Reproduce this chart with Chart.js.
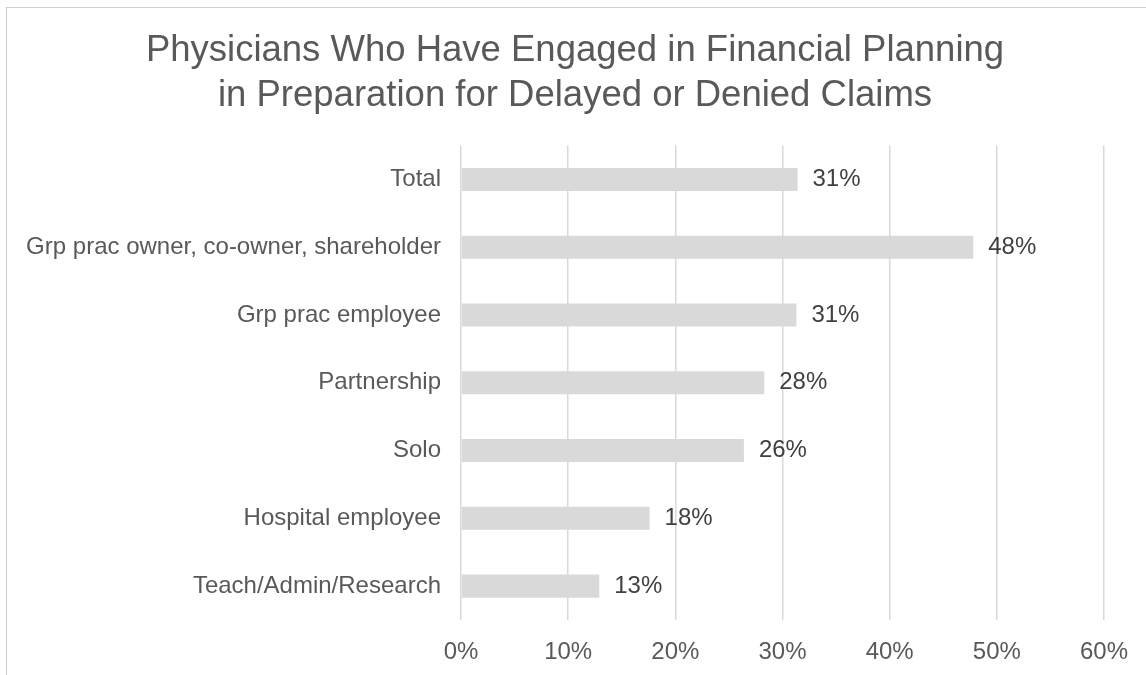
<!DOCTYPE html>
<html>
<head>
<meta charset="utf-8">
<script src="https://cdn.jsdelivr.net/npm/chart.js@4"></script>
<style>
  body { margin: 0; background: #fff; }
  #wrap { position: relative; width: 1146px; height: 675px; overflow: hidden; }
  #frame { position: absolute; left: 6px; top: 7px; width: 1200px; height: 700px;
           border-left: 1px solid #d0d0d0; border-top: 1px solid #d0d0d0; }
  canvas { position: absolute; left: 0; top: 0; }
</style>
</head>
<body>
<div id="wrap">
  <div id="frame"></div>
  <canvas id="barChart" width="1146" height="675"></canvas>
</div>
<script>
const categories = [
  "Total",
  "Grp prac owner, co-owner, shareholder",
  "Grp prac employee",
  "Partnership",
  "Solo",
  "Hospital employee",
  "Teach/Admin/Research"
];
const shares = [31.4, 47.8, 31.3, 28.3, 26.4, 17.6, 12.9];
const tickValues = [0, 10, 20, 30, 40, 50, 60];
const titleLines = [
  "Physicians Who Have Engaged in Financial Planning",
  "in Preparation for Delayed or Denied Claims"
];

const fontFamily = "'Liberation Sans', Arial, sans-serif";

// value labels at the end of each bar
const barLabels = {
  id: "barLabels",
  afterLayout(chart) {
    // centre the title on the whole canvas, not just the padded area
    chart.titleBlock.left = 0;
    chart.titleBlock.right = chart.width + 4;
  },
  afterDatasetsDraw(chart) {
    const ctx = chart.ctx;
    const meta = chart.getDatasetMeta(0);
    ctx.save();
    ctx.font = "24px " + fontFamily;
    ctx.fillStyle = "#404040";
    ctx.textAlign = "left";
    ctx.textBaseline = "middle";
    meta.data.forEach((bar, i) => {
      ctx.fillText(Math.round(shares[i]) + "%", bar.x + 15, bar.y);
    });
    ctx.restore();
  }
};

var barChart = new Chart("barChart", {
  type: "bar",
  data: {
    labels: categories,
    datasets: [{
      data: shares,
      backgroundColor: "#d9d9d9",
      borderWidth: 0,
      barPercentage: 0.34,
      categoryPercentage: 1
    }]
  },
  plugins: [barLabels],
  options: {
    indexAxis: "y",
    responsive: false,
    animation: false,
    layout: { padding: { left: 0, right: 42, top: 0, bottom: 0 } },
    plugins: {
      legend: { display: false },
      tooltip: { enabled: false },
      title: {
        display: true,
        text: titleLines,
        color: "#595959",
        font: { family: fontFamily, size: 36.5, weight: "normal", lineHeight: 1.24 },
        padding: { top: 28, bottom: 27 }
      }
    },
    scales: {
      x: {
        min: 0,
        max: 60,
        afterBuildTicks: (axis) => { axis.ticks = tickValues.map(v => ({ value: v })); },
        afterFit: (axis) => { axis.height = 55; },
        grid: { color: "#d9d9d9", lineWidth: 1.5, drawTicks: false },
        border: { display: false },
        ticks: {
          padding: 18,
          color: "#595959",
          font: { family: fontFamily, size: 24 },
          callback: (v) => v + "%"
        }
      },
      y: {
        afterFit: (axis) => { axis.width = 461; },
        grid: { display: false, drawTicks: false },
        border: { display: false },
        ticks: {
          padding: 20,
          color: "#595959",
          font: { family: fontFamily, size: 24 }
        }
      }
    }
  }
});
</script>
</body>
</html>
